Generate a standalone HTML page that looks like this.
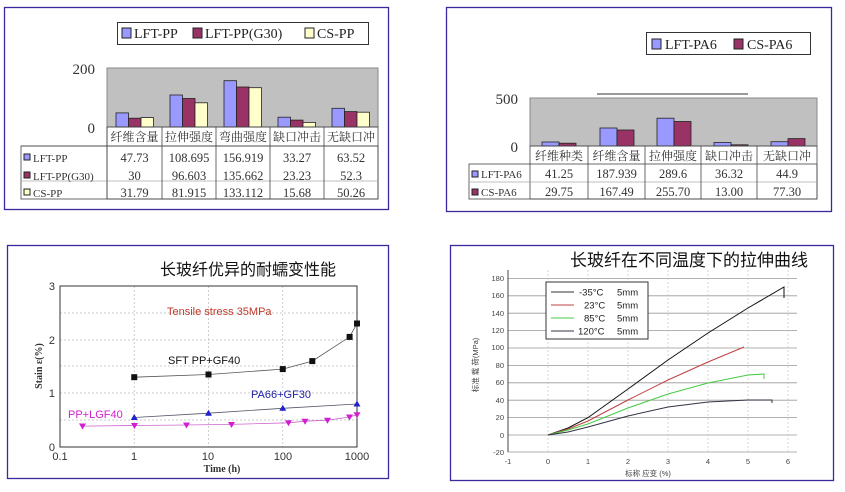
<!DOCTYPE html>
<html><head><meta charset="utf-8"><style>
html,body{margin:0;padding:0;background:#fff;}
svg{display:block;}
.s{font-family:"Liberation Serif","Noto Serif CJK SC",serif;}
.a{font-family:"Liberation Sans","Noto Sans CJK SC",sans-serif;}
</style></head><body>
<svg width="845" height="492" viewBox="0 0 845 492" xmlns="http://www.w3.org/2000/svg">
<rect width="845" height="492" fill="#fff"/>
<!-- Panel 1 -->
<rect x="4.5" y="7.5" width="384" height="202" fill="none" stroke="#3a2aa0" stroke-width="1.3"/>
<rect x="117.5" y="22.5" width="251" height="22" fill="#fff" stroke="#333"/>
<g class="s" font-size="14" fill="#222">
<rect x="122" y="28" width="9" height="10" fill="#9999ff" stroke="#222"/><text x="134" y="38">LFT-PP</text>
<rect x="193" y="28" width="9" height="10" fill="#993366" stroke="#222"/><text x="205" y="38">LFT-PP(G30)</text>
<rect x="305" y="28" width="9" height="10" fill="#ffffcc" stroke="#222"/><text x="317" y="38">CS-PP</text>
</g>
<rect x="107" y="68" width="271" height="59" fill="#c0c0c0" stroke="#888"/>
<g class="s" font-size="15" fill="#333" text-anchor="end"><text x="95" y="74">200</text><text x="95" y="133">0</text></g>
<g stroke="#222" stroke-width="0.8">
<rect x="116" y="112.9" width="12.5" height="14.1" fill="#9999ff"/><rect x="128.5" y="118.2" width="12.5" height="8.8" fill="#993366"/><rect x="141" y="117.6" width="12.5" height="9.4" fill="#ffffcc"/>
<rect x="170" y="95" width="12.5" height="32" fill="#9999ff"/><rect x="182.5" y="98.5" width="12.5" height="28.5" fill="#993366"/><rect x="195" y="102.8" width="12.5" height="24.2" fill="#ffffcc"/>
<rect x="224" y="80.7" width="12.5" height="46.3" fill="#9999ff"/><rect x="236.5" y="87" width="12.5" height="40" fill="#993366"/><rect x="249" y="87.7" width="12.5" height="39.3" fill="#ffffcc"/>
<rect x="278" y="117.2" width="12.5" height="9.8" fill="#9999ff"/><rect x="290.5" y="120.1" width="12.5" height="6.9" fill="#993366"/><rect x="303" y="122.4" width="12.5" height="4.6" fill="#ffffcc"/>
<rect x="332" y="108.3" width="12.5" height="18.7" fill="#9999ff"/><rect x="344.5" y="111.6" width="12.5" height="15.4" fill="#993366"/><rect x="357" y="112.2" width="12.5" height="14.8" fill="#ffffcc"/>
</g>
<g stroke="#444" stroke-width="0.8" fill="none">
<rect x="107" y="127" width="271" height="72"/>
<line x1="21" y1="146" x2="378" y2="146"/><rect x="21" y="146" width="357" height="53"/>
<line x1="21" y1="181" x2="378" y2="181" stroke="#aaa"/>
<line x1="162" y1="127" x2="162" y2="199"/><line x1="216" y1="127" x2="216" y2="199"/><line x1="270" y1="127" x2="270" y2="199"/><line x1="324" y1="127" x2="324" y2="199"/><line x1="107" y1="127" x2="107" y2="199"/>
</g>
<g class="s" font-size="12" fill="#333" text-anchor="middle">
<text x="134.5" y="141">纤维含量</text><text x="189" y="141">拉伸强度</text><text x="243" y="141">弯曲强度</text><text x="297" y="141">缺口冲击</text><text x="351" y="141">无缺口冲</text>
</g>
<g class="s" font-size="12.5" fill="#333" text-anchor="middle">
<text x="134.5" y="162">47.73</text><text x="189" y="162">108.695</text><text x="243" y="162">156.919</text><text x="297" y="162">33.27</text><text x="351" y="162">63.52</text>
<text x="134.5" y="180">30</text><text x="189" y="180">96.603</text><text x="243" y="180">135.662</text><text x="297" y="180">23.23</text><text x="351" y="180">52.3</text>
<text x="134.5" y="197">31.79</text><text x="189" y="197">81.915</text><text x="243" y="197">133.112</text><text x="297" y="197">15.68</text><text x="351" y="197">50.26</text>
</g>
<g class="s" font-size="11" fill="#333">
<rect x="24" y="154" width="6" height="6" fill="#9999ff" stroke="#222"/><text x="33" y="162">LFT-PP</text>
<rect x="24" y="172" width="6" height="6" fill="#993366" stroke="#222"/><text x="33" y="180">LFT-PP(G30)</text>
<rect x="24" y="189" width="6" height="6" fill="#ffffcc" stroke="#222"/><text x="33" y="197">CS-PP</text>
</g>
<!-- Panel 2 -->
<rect x="446.5" y="7.5" width="385" height="204" fill="none" stroke="#3a2aa0" stroke-width="1.3"/>
<rect x="646.5" y="32.5" width="164" height="22" fill="#fff" stroke="#333"/>
<g class="s" font-size="14" fill="#222">
<rect x="652" y="39" width="9" height="10" fill="#9999ff" stroke="#222"/><text x="665" y="49">LFT-PA6</text>
<rect x="734" y="39" width="9" height="10" fill="#993366" stroke="#222"/><text x="747" y="49">CS-PA6</text>
</g>
<line x1="597" y1="94" x2="748" y2="94" stroke="#333"/>
<rect x="530" y="98" width="287" height="48" fill="#c0c0c0" stroke="#888"/>
<g class="s" font-size="15" fill="#333" text-anchor="end"><text x="518" y="104">500</text><text x="518" y="152">0</text></g>
<g stroke="#222" stroke-width="0.8">
<rect x="542" y="142" width="17" height="4" fill="#9999ff"/><rect x="559" y="143.2" width="17" height="2.8" fill="#993366"/>
<rect x="600" y="128" width="17" height="18" fill="#9999ff"/><rect x="617" y="130" width="17" height="16" fill="#993366"/>
<rect x="657" y="118.2" width="17" height="27.8" fill="#9999ff"/><rect x="674" y="121.5" width="17" height="24.5" fill="#993366"/>
<rect x="714" y="142.5" width="17" height="3.5" fill="#9999ff"/><rect x="731" y="144.8" width="17" height="1.2" fill="#993366"/>
<rect x="771" y="141.7" width="17" height="4.3" fill="#9999ff"/><rect x="788" y="138.6" width="17" height="7.4" fill="#993366"/>
</g>
<g stroke="#444" stroke-width="0.8" fill="none">
<rect x="530" y="146" width="287" height="53"/>
<rect x="469" y="164" width="348" height="35"/>
<line x1="469" y1="182" x2="817" y2="182" stroke="#aaa"/>
<line x1="588" y1="146" x2="588" y2="199"/><line x1="645" y1="146" x2="645" y2="199"/><line x1="701" y1="146" x2="701" y2="199"/><line x1="757" y1="146" x2="757" y2="199"/>
</g>
<g class="s" font-size="12" fill="#333" text-anchor="middle">
<text x="559" y="160">纤维种类</text><text x="616.5" y="160">纤维含量</text><text x="673" y="160">拉伸强度</text><text x="729" y="160">缺口冲击</text><text x="787" y="160">无缺口冲</text>
</g>
<g class="s" font-size="12.5" fill="#333" text-anchor="middle">
<text x="559" y="178">41.25</text><text x="616.5" y="178">187.939</text><text x="673" y="178">289.6</text><text x="729" y="178">36.32</text><text x="787" y="178">44.9</text>
<text x="559" y="196">29.75</text><text x="616.5" y="196">167.49</text><text x="673" y="196">255.70</text><text x="729" y="196">13.00</text><text x="787" y="196">77.30</text>
</g>
<g class="s" font-size="11" fill="#333">
<rect x="472" y="171" width="6" height="6" fill="#9999ff" stroke="#222"/><text x="481" y="178">LFT-PA6</text>
<rect x="472" y="189" width="6" height="6" fill="#993366" stroke="#222"/><text x="481" y="196">CS-PA6</text>
</g>
<!-- Panel 3 -->
<rect x="7.5" y="245.5" width="381" height="233" fill="none" stroke="#3a2aa0" stroke-width="1.3"/>
<text class="a" x="248" y="275" font-size="16" text-anchor="middle" fill="#111">长玻纤优异的耐蠕变性能</text>
<g stroke="#bbb" stroke-width="0.7" stroke-dasharray="2,2">
<line x1="60" y1="420" x2="357" y2="420"/><line x1="60" y1="393" x2="357" y2="393"/><line x1="60" y1="366" x2="357" y2="366"/><line x1="60" y1="340" x2="357" y2="340"/><line x1="60" y1="313" x2="357" y2="313"/>
<line x1="134.25" y1="286" x2="134.25" y2="447"/><line x1="208.5" y1="286" x2="208.5" y2="447"/><line x1="282.75" y1="286" x2="282.75" y2="447"/>
</g>
<rect x="60" y="286" width="297" height="161" fill="none" stroke="#333"/>
<g class="a" font-size="11" fill="#333">
<text x="55" y="451" text-anchor="end">0</text><text x="55" y="397" text-anchor="end">1</text><text x="55" y="344" text-anchor="end">2</text><text x="55" y="290" text-anchor="end">3</text>
<text x="60" y="460" text-anchor="middle">0.1</text><text x="134" y="460" text-anchor="middle">1</text><text x="208" y="460" text-anchor="middle">10</text><text x="283" y="460" text-anchor="middle">100</text><text x="357" y="460" text-anchor="middle">1000</text>
</g>
<text class="s" x="222" y="472" font-size="10" font-weight="bold" text-anchor="middle" fill="#333">Time (h)</text>
<text class="s" x="42" y="366" font-size="10" font-weight="bold" text-anchor="middle" fill="#333" transform="rotate(-90 42 366)">Stain ε(%)</text>
<polyline points="134.25,377.2 208.5,374.5 282.75,369.1 312.3,361.1 349.6,336.9 357,323.5" fill="none" stroke="#555" stroke-width="0.8"/>
<g fill="#111"><rect x="131.25" y="374.2" width="6" height="6"/><rect x="205.5" y="371.5" width="6" height="6"/><rect x="279.75" y="366.1" width="6" height="6"/><rect x="309.3" y="358.1" width="6" height="6"/><rect x="346.6" y="333.9" width="6" height="6"/><rect x="354" y="320.5" width="6" height="6"/></g>
<polyline points="134.25,417.5 208.5,413.2 282.75,408.3 357,404" fill="none" stroke="#556" stroke-width="0.8"/>
<g fill="#2222cc"><path d="M134.25,414 l3.5,6 h-7z"/><path d="M208.5,409.7 l3.5,6 h-7z"/><path d="M282.75,404.8 l3.5,6 h-7z"/><path d="M357,400.5 l3.5,6 h-7z"/></g>
<polyline points="82.3,426.1 134.25,425.5 186.1,425 231.1,424.4 288.6,422.8 305,421.2 327.3,420.2 349.6,417 357,414.8" fill="none" stroke="#c6c" stroke-width="0.8"/>
<g fill="#d020d0"><path d="M79,423.5 h7 l-3.5,6z"/><path d="M131,423 h7 l-3.5,6z"/><path d="M183,422.5 h7 l-3.5,6z"/><path d="M228,422 h7 l-3.5,6z"/><path d="M285,420.3 h7 l-3.5,6z"/><path d="M301.5,418.7 h7 l-3.5,6z"/><path d="M324,417.7 h7 l-3.5,6z"/><path d="M346,414.5 h7 l-3.5,6z"/><path d="M353.5,412.3 h7 l-3.5,6z"/></g>
<g class="a" font-size="11">
<text x="167" y="315" fill="#c0392b">Tensile stress  35MPa</text>
<text x="168" y="364" fill="#111">SFT PP+GF40</text>
<text x="251" y="398" fill="#2222aa">PA66+GF30</text>
<text x="68" y="418" fill="#d020d0">PP+LGF40</text>
</g>
<!-- Panel 4 -->
<rect x="450.5" y="245.5" width="383" height="235" fill="none" stroke="#3a2aa0" stroke-width="1.3"/>
<text class="a" x="689" y="266" font-size="17" text-anchor="middle" fill="#111">长玻纤在不同温度下的拉伸曲线</text>
<g stroke="#999" stroke-width="0.8">
<line x1="508" y1="452" x2="797" y2="452"/><line x1="508" y1="435" x2="797" y2="435"/><line x1="508" y1="417.6" x2="797" y2="417.6"/><line x1="508" y1="400.2" x2="797" y2="400.2"/><line x1="508" y1="382.8" x2="797" y2="382.8"/><line x1="508" y1="365.4" x2="797" y2="365.4"/><line x1="508" y1="348" x2="797" y2="348"/><line x1="508" y1="330.6" x2="797" y2="330.6"/><line x1="508" y1="313.2" x2="797" y2="313.2"/><line x1="508" y1="295.8" x2="797" y2="295.8"/><line x1="508" y1="278.4" x2="797" y2="278.4"/>
</g>
<g stroke="#bbb" stroke-width="0.6" stroke-dasharray="2,2">
<line x1="548" y1="270" x2="548" y2="452"/><line x1="588" y1="270" x2="588" y2="452"/><line x1="628" y1="270" x2="628" y2="452"/><line x1="668" y1="270" x2="668" y2="452"/><line x1="708" y1="270" x2="708" y2="452"/><line x1="748" y1="270" x2="748" y2="452"/><line x1="788" y1="270" x2="788" y2="452"/>
</g>
<line x1="508" y1="270" x2="508" y2="452" stroke="#444"/>
<g class="a" font-size="7.5" fill="#444" text-anchor="end">
<text x="504" y="455">-20</text><text x="504" y="438">0</text><text x="504" y="420">20</text><text x="504" y="403">40</text><text x="504" y="385">60</text><text x="504" y="368">80</text><text x="504" y="350">100</text><text x="504" y="333">120</text><text x="504" y="316">140</text><text x="504" y="298">160</text><text x="504" y="281">180</text>
</g>
<g class="a" font-size="7.5" fill="#444" text-anchor="middle">
<text x="508" y="464">-1</text><text x="548" y="464">0</text><text x="588" y="464">1</text><text x="628" y="464">2</text><text x="668" y="464">3</text><text x="708" y="464">4</text><text x="748" y="464">5</text><text x="788" y="464">6</text>
</g>
<text class="a" x="648" y="476" font-size="7.5" fill="#444" text-anchor="middle">标称 应变 (%)</text>
<text class="a" x="478" y="365" font-size="7.5" fill="#444" text-anchor="middle" transform="rotate(-90 478 365)">标准 载 荷(MPa)</text>
<polyline points="548,435 568,428 588,417.6 628,389 668,360 708,333 748,308 784,287 784,298" fill="none" stroke="#111" stroke-width="1"/>
<polyline points="548,435 568,429 588,421 628,400 668,380 708,362 744,347" fill="none" stroke="#c04040" stroke-width="1"/>
<polyline points="548,435 568,430 588,424 628,408 668,394 708,383 748,375 764,374 764,379" fill="none" stroke="#4c4" stroke-width="1"/>
<polyline points="548,435 568,432 588,427 628,416 668,407 708,402 748,400 772,400 772,403" fill="none" stroke="#334" stroke-width="1"/>
<rect x="546" y="282" width="102" height="57" fill="#fff" stroke="#333"/>
<g class="a" font-size="9.5" fill="#222">
<line x1="551" y1="292" x2="574" y2="292" stroke="#333"/><text x="579" y="295.5">-35°C</text><text x="617" y="295.5">5mm</text>
<line x1="551" y1="305" x2="574" y2="305" stroke="#c04040"/><text x="584" y="308.5">23°C</text><text x="617" y="308.5">5mm</text>
<line x1="551" y1="318" x2="574" y2="318" stroke="#4c4"/><text x="584" y="321.5">85°C</text><text x="617" y="321.5">5mm</text>
<line x1="551" y1="331" x2="574" y2="331" stroke="#334"/><text x="578" y="334.5">120°C</text><text x="617" y="334.5">5mm</text>
</g>
</svg>
</body></html>
